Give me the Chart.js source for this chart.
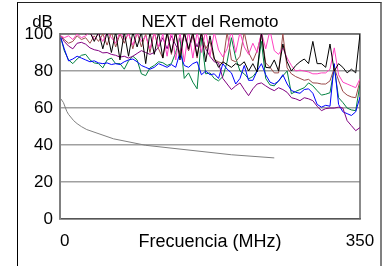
<!DOCTYPE html>
<html>
<head>
<meta charset="utf-8">
<script src="https://cdn.jsdelivr.net/npm/chart.js@4/dist/chart.umd.min.js"></script>
<style>
  html, body { margin: 0; padding: 0; background: #fff; }
  #wrap { position: relative; width: 391px; height: 266px; overflow: hidden; }
  #frame { position: absolute; left: 17px; top: 2px; width: 362px; height: 300px;
           border-left: 1px solid #000; border-top: 1px solid #222; border-right: 2px solid #808080; }
  canvas { position: absolute; left: 0; top: 0; }
</style>
</head>
<body>
<div id="wrap">
  <div id="frame"></div>
  <canvas id="c" width="391" height="266"></canvas>
</div>
<script>
const chartTitle = 'NEXT del Remoto';
const yUnit = 'dB';
const xTickValues = [0, 175, 350];
const xTickLabels = ['  0', 'Frecuencia (MHz)', '350'];
const yTickValues = [0, 20, 40, 60, 80, 100];

const freq = [1,5,10,15,20,25,30,35,40,45,50,55,60,65,70,75,80,85,90,95,100,105,110,115,120,125,130,135,140,145,150,155,160,165,170,175,180,185,190,195,200,205,210,215,220,225,230,235,240,245,250,255,260,265,270,275,280,285,290,295,300,305,310,315,320,325,330,335,340,345,350];

const pairBlack = [101,101,101,101,101,101,100,101,96,101,
  92,101,90,101,86,101,88,101,93,101,
  84,101,89,101,87,101,90,101,86,101,
  92,101,88,101,85,99,87,82,85,83.5,
  82,84,83,85,80,84,79.5,101,82,81.7,
  86,80,94.6,85,80,83,85,86.5,84,96,
  84,84,82,94.6,80,84,82,79,81,79,
  100];
const pairPink = [99,98,99,97,100,98,99,101,97,100,
  96,101,98,95,101,97,100,94,101,96,
  99,92,101,93,100,88,102,86,101,85,
  102,87,101,90,102,88,101,91.4,87.6,92,
  102,90,101,93,89,95,90,101,92,102,
  91,89,92.5,87,83,80,80.5,80,79.5,78.5,
  78.5,79,79,81,92.5,78,74,73,72,71,
  75.8];
const pairBrown = [99,97,95,96,99,97,98,95,99,96,
  100,94,101,93,100,95,101,92,101,93,
  100,90,101,92,87,101,89,101,88,101,
  91,100,87,101,92,96,86,85,84,101,
  86,85,88,101,90,85.5,91,100,84.4,82,
  79,79,100,81.7,78.5,77,76,75,75.5,73.6,
  73.5,73,73,74.7,81.7,75,69,67,66,65.6,
  74.7];
const pairPurple = [99,96,93.5,92,95,95.5,94.5,92.5,91.5,91,
  89.8,90,89,88.5,87.5,88,87,88,89.5,91,
  90,89,90,93,98,92,99,94,90,100,
  91,99,93,100,92,88,85,84.4,76,73,
  70,72,73.6,70,66.7,70.4,73,73.6,72,70.5,
  69.4,71,70,68.5,65.6,65,64,65.6,65,64,
  61,58.6,59.7,60,60,60.5,60,53.2,50.5,47.8,
  49.5];
const pairBlue = [98,92,85.5,86.5,88,87,86,85,85.5,84.4,
  84,84.4,83.5,84,83.5,85,86,86.5,85,83,
  82,81,82,84,83,82,83.5,82,90,83,
  82,84,85,78,80,78,78.5,76,84,81,
  79,73,76,83,75,75,80,84,78,74,
  73,74.5,78,73,69.5,68.5,68,70,70.4,68,
  62,60.5,61.5,61,84,62,58,57,56,58,
  66];
const pairGreen = [98,91,86,84,86.5,88.5,89,86,84.4,84,
  81.7,86,87,84,84,81,85.5,88,86,78.5,
  77.5,81.7,83,85,84.5,83,84,90,98,76,
  79,74,70.4,98,78.5,79,76,74.7,77,85,
  98,87,80,78.5,75.8,77,80,96,76,72.5,
  72,74.7,77.4,80,67.7,69,70,71,73.6,72,
  69.4,67,67.5,68.3,81.7,65.6,63,60,59,58.6,
  73];

const limitFreq = [1,4,8,10,16,20,25,31.25,62.5,100,200,250];
const limitValues = [65,63,58.2,56.6,53.2,51.6,50,48.4,43.4,39.9,34.8,33.1];

function pts(xs, ys) { return xs.map((x, i) => ({ x: x, y: ys[i] })); }

const series = [
  { name: 'Par 1', data: pairBlack, color: '#000000' },
  { name: 'Par 2', data: pairPink, color: '#ff40c0' },
  { name: 'Par 3', data: pairBrown, color: '#9a4b4b' },
  { name: 'Par 4', data: pairPurple, color: '#800080' },
  { name: 'Par 5', data: pairBlue, color: '#0000ff' },
  { name: 'Par 6', data: pairGreen, color: '#008040' }
];

const datasets = series.map((s, i) => ({
  label: s.name,
  data: pts(freq, s.data),
  borderColor: s.color,
  borderWidth: 1,
  pointRadius: 0,
  tension: 0,
  order: i + 1
}));
datasets.push({
  label: 'Límite',
  data: pts(limitFreq, limitValues),
  borderColor: '#808080',
  borderWidth: 1,
  pointRadius: 0,
  tension: 0,
  order: 20
});

const FONT = '"Liberation Sans", Arial, sans-serif';

const frameBox = {
  id: 'frameBox',
  beforeDatasetsDraw(chart) {
    const { ctx, chartArea: a } = chart;
    ctx.save();
    ctx.strokeStyle = '#666666';
    ctx.lineWidth = 1.5;
    ctx.beginPath();
    ctx.moveTo(a.left, a.top);
    ctx.lineTo(a.right, a.top);
    ctx.lineTo(a.right, a.bottom);
    ctx.stroke();
    ctx.restore();
  },
  afterDraw(chart) {
    const { ctx, chartArea: a } = chart;
    ctx.save();
    ctx.fillStyle = '#000';
    ctx.font = '17px ' + FONT;
    ctx.textAlign = 'right';
    ctx.textBaseline = 'middle';
    ctx.fillText(yUnit, a.left - 7, 22);
    ctx.restore();
  }
};

new Chart(document.getElementById('c'), {
  type: 'line',
  data: { datasets: datasets },
  plugins: [frameBox],
  options: {
    responsive: false,
    animation: false,
    layout: { padding: { left: 17.6, right: 31, top: 0, bottom: 1.2 } },
    plugins: {
      legend: { display: false },
      tooltip: { enabled: false },
      title: {
        display: true,
        text: chartTitle,
        fullSize: false,
        color: '#000',
        font: { family: FONT, size: 17, weight: 'normal', lineHeight: 1.2 },
        padding: { top: 12.5, bottom: 1.1 }
      }
    },
    scales: {
      x: {
        type: 'linear',
        min: 0, max: 350,
        afterBuildTicks(scale) { scale.ticks = xTickValues.map(v => ({ value: v })); },
        grid: { display: false, drawTicks: false },
        border: { display: true, color: '#555555', width: 1.5 },
        ticks: {
          autoSkip: false, maxRotation: 0, padding: 12, color: '#000',
          font(ctx) { return { family: FONT, size: ctx.index === 1 ? 18 : 17, lineHeight: 1.2 }; },
          callback(v) { const i = xTickValues.indexOf(v); return i >= 0 ? xTickLabels[i] : ''; }
        }
      },
      y: {
        min: 0, max: 100,
        afterBuildTicks(scale) { scale.ticks = yTickValues.map(v => ({ value: v })); },
        grid: { color: '#a0a0a0', lineWidth: 1.5, drawTicks: false },
        border: { display: true, color: '#808080', width: 2 },
        ticks: {
          padding: 7, color: '#000',
          font: { family: FONT, size: 17, lineHeight: 1.2 }
        }
      }
    }
  }
});
</script>
</body>
</html>
